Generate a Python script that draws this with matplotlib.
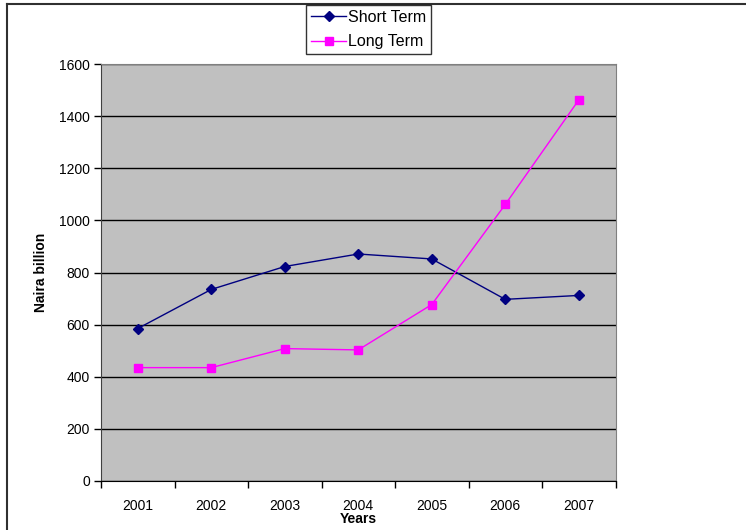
import matplotlib
matplotlib.use("Agg")
import matplotlib.pyplot as plt
from matplotlib.lines import Line2D
from matplotlib.ticker import FixedLocator, NullFormatter, FixedFormatter

plt.rcParams["font.family"] = ["Liberation Sans", "DejaVu Sans"]

years = ["2001", "2002", "2003", "2004", "2005", "2006", "2007"]
short_term = [585, 735, 823, 871, 852, 697, 712]
long_term = [435, 435, 508, 503, 677, 1061, 1462]
y_ticks = [0, 200, 400, 600, 800, 1000, 1200, 1400, 1600]

W, H = 746, 530
fig = plt.figure(figsize=(W / 100, H / 100), dpi=100)
ax = fig.add_axes([101 / W, 1 - 481 / H, (615.5 - 101) / W, (481 - 64) / H])
ax.set_facecolor("#C0C0C0")

x = list(range(len(years)))
ax.plot(x, short_term, color="#000080", lw=1, marker="D", ms=5.5,
        label="Short Term", zorder=3)
ax.plot(x, long_term, color="#FF00FF", lw=1, marker="s", ms=5.5,
        label="Long Term", zorder=3)

ax.set_xlim(-0.5, len(years) - 0.5)
ax.set_ylim(0, 1600)
ax.set_yticks(y_ticks)
ax.yaxis.grid(True, color="black", lw=1)
ax.set_axisbelow(True)

# category boundaries carry the tick marks, centres carry the labels
ax.xaxis.set_major_locator(FixedLocator([i - 0.5 for i in range(len(years) + 1)]))
ax.xaxis.set_major_formatter(NullFormatter())
ax.xaxis.set_minor_locator(FixedLocator(x))
ax.xaxis.set_minor_formatter(FixedFormatter(years))
ax.tick_params(axis="x", which="major", direction="out", length=5, width=1)
ax.tick_params(axis="x", which="minor", length=0, pad=13, labelsize=10)
ax.tick_params(axis="y", direction="out", length=5, width=1, labelsize=10, pad=3)

for side in ("top", "right"):
    ax.spines[side].set_color("#808080")
ax.spines["left"].set_color("#404040")
ax.spines["bottom"].set_color("black")

ax.set_ylabel("Naira billion", fontsize=10, fontweight="bold", labelpad=8)
ax.set_xlabel("Years", fontsize=10, fontweight="bold", labelpad=-1)

fig.legend(loc="upper center", bbox_to_anchor=(368.5 / W, 1 - 5 / H),
           fontsize=11.5, frameon=True, fancybox=False, edgecolor="black",
           handlelength=2.2, handletextpad=0.1, borderpad=0.3,
           labelspacing=0.6, borderaxespad=0)

# chart-area frame
fig.add_artist(Line2D([7 / W, 1], [1 - 4 / H, 1 - 4 / H], color="#303030", lw=1.5))
fig.add_artist(Line2D([7 / W, 7 / W], [0, 1 - 4 / H], color="#303030", lw=1.5))

fig.savefig("out.png", dpi=100)
